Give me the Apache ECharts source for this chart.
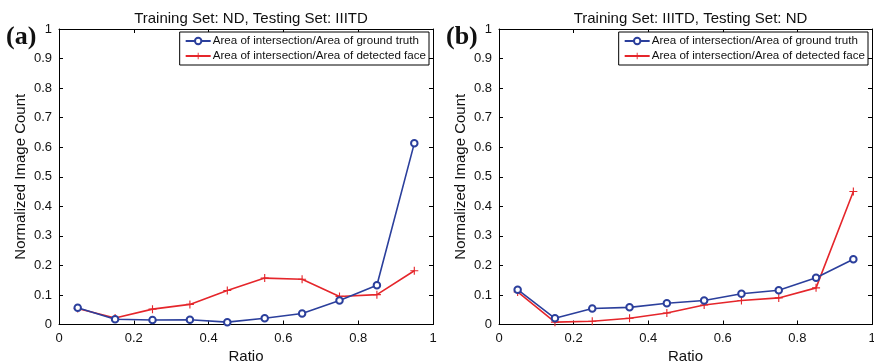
<!DOCTYPE html>
<html><head><meta charset="utf-8">
<script src="https://cdn.jsdelivr.net/npm/echarts@6/dist/echarts.min.js"></script>
<style>html,body{margin:0;padding:0;background:#fff}#c{width:874px;height:363px}</style>
</head><body><div id="c"></div>
<script>
const ratios = [0.05,0.15,0.25,0.35,0.45,0.55,0.65,0.75,0.85,0.95];
const xTicks = [0,0.2,0.4,0.6,0.8,1];
const yTicks = [0,0.1,0.2,0.3,0.4,0.5,0.6,0.7,0.8,0.9,1];
const seriesNames = ['Area of intersection/Area of ground truth','Area of intersection/Area of detected face'];
const titles = ['Training Set: ND, Testing Set: IIITD','Training Set: IIITD, Testing Set: ND'];
const panelTags = ['(a)','(b)'];
const aGroundTruth = [0.057,0.018,0.015,0.016,0.008,0.021,0.037,0.081,0.133,0.613];
const aDetected    = [0.054,0.022,0.052,0.068,0.115,0.157,0.153,0.095,0.101,0.182];
const bGroundTruth = [0.118,0.021,0.054,0.058,0.072,0.081,0.104,0.116,0.158,0.221];
const bDetected    = [0.110,0.008,0.011,0.021,0.039,0.066,0.081,0.090,0.124,0.450];

const BLUE = '#2b3f9c', RED = '#e5262b';
const PLUS = 'path://M4.3,0H5.7V4.3H10V5.7H5.7V10H4.3V5.7H0V4.3H4.3Z';
const FONT = '"Liberation Sans", Arial, sans-serif';
const pairs = v => ratios.map((r,i)=>[r,v[i]]);

const grids = [
  {left:59, right:441, top:29, bottom:38.5, outerBoundsMode:'none', containLabel:false},
  {left:499, right:2, top:29, bottom:38.5, outerBoundsMode:'none', containLabel:false}
];
const xAxis = [], yAxis = [], series = [], legend = [], title = [], graphic = [];
const axisLine = {show:true, onZero:false, lineStyle:{color:'#000', width:1}};
const tick = {show:true, inside:true, length:4, lineStyle:{color:'#000'}};
grids.forEach((g, gi) => {
  const lab = {color:'#111', fontSize:13, fontFamily:FONT};
  xAxis.push({gridIndex:gi, type:'value', min:xTicks[0], max:xTicks[xTicks.length-1], interval:0.2,
    position:'bottom', axisLine, axisTick:tick, splitLine:{show:false},
    axisLabel:Object.assign({margin:7}, lab),
    name:'Ratio', nameLocation:'middle', nameGap:24, nameTextStyle:{color:'#111', fontSize:15, fontFamily:FONT}});
  xAxis.push({gridIndex:gi, type:'value', min:0, max:1, interval:0.2, position:'top',
    axisLine, axisTick:tick, axisLabel:{show:false}, splitLine:{show:false}});
  yAxis.push({gridIndex:gi, type:'value', min:yTicks[0], max:yTicks[yTicks.length-1], interval:0.1,
    position:'left', axisLine, axisTick:tick, splitLine:{show:false},
    axisLabel:Object.assign({margin:7}, lab),
    name:'Normalized Image Count', nameLocation:'middle', nameGap:31, nameRotate:90,
    nameTextStyle:{color:'#111', fontSize:15, fontFamily:FONT}});
  yAxis.push({gridIndex:gi, type:'value', min:0, max:1, interval:0.1, position:'right',
    axisLine, axisTick:tick, axisLabel:{show:false}, splitLine:{show:false}});
  const data = gi===0 ? [aGroundTruth, aDetected] : [bGroundTruth, bDetected];
  series.push({name:seriesNames[0], type:'line', xAxisIndex:gi*2, yAxisIndex:gi*2, data:pairs(data[0]),
    symbol:'emptyCircle', symbolSize:6.5, showAllSymbol:true, lineStyle:{color:BLUE, width:1.6},
    itemStyle:{color:BLUE, borderColor:BLUE, borderWidth:1.5}, animation:false, z:3});
  series.push({name:seriesNames[1], type:'line', xAxisIndex:gi*2, yAxisIndex:gi*2, data:pairs(data[1]),
    symbol:PLUS, symbolSize:8, showAllSymbol:true, lineStyle:{color:RED, width:1.6},
    itemStyle:{color:RED}, animation:false, z:2});
  legend.push({orient:'vertical', right: gi===0 ? 445 : 6, top:32, data:seriesNames,
    itemWidth:25, itemHeight:8, itemGap:3, padding:[3,3,3,5],
    borderColor:'#000', borderWidth:1, backgroundColor:'#fff', selectedMode:false,
    textStyle:{fontSize:11.6, color:'#111', fontFamily:FONT, padding:[0,0,0,-3]}});
  const cx = gi===0 ? 246 : 685.5;
  title.push({text:titles[gi], left:cx, top:6, textAlign:'center',
    textStyle:{fontSize:15, fontWeight:'normal', color:'#111', fontFamily:FONT}});
  graphic.push({type:'text', left: gi===0 ? 6 : 446, top:24,
    style:{text:panelTags[gi], font:'bold 26px "Liberation Serif", "Times New Roman", serif', fill:'#111'}});
});
const chart = echarts.init(document.getElementById('c'));
chart.setOption({animation:false, grid:grids, xAxis, yAxis, series, legend, title, graphic});
</script></body></html>
